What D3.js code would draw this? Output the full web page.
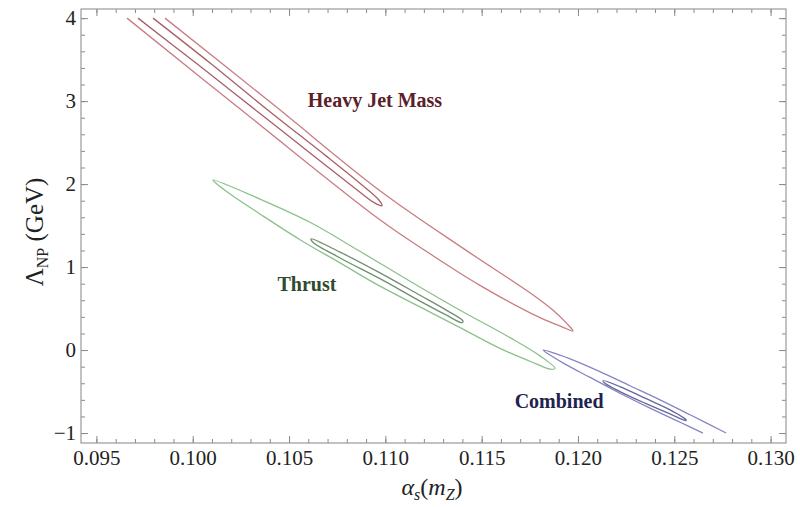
<!DOCTYPE html>
<html>
<head>
<meta charset="utf-8">
<script src="https://cdn.jsdelivr.net/npm/d3@7"></script>
<style>
body { margin: 0; background: #fff; }
</style>
</head>
<body>
<div id="chart"></div>
<script>
// tick labels
const xTicks = [0.095, 0.100, 0.105, 0.110, 0.115, 0.120, 0.125, 0.130];
const yTicks = [-1, 0, 1, 2, 3, 4];

// contour lines, [alpha_s, Lambda_NP]
const heavyOuter = [
    [0.09659, 4.00], [0.10313, 2.78], [0.10972, 1.57], [0.11232, 1.16], [0.11491, 0.78],
    [0.11803, 0.39], [0.11917, 0.28], [0.11974, 0.23], [0.11938, 0.33], [0.11881, 0.46],
    [0.11751, 0.69], [0.11414, 1.21], [0.10972, 1.92], [0.10412, 2.97], [0.09856, 4.00]
];
const heavyInner = [
    [0.09716, 4.00], [0.10027, 3.44], [0.10339, 2.87], [0.10650, 2.30], [0.10842, 1.95],
    [0.10946, 1.77], [0.10983, 1.74], [0.10962, 1.82], [0.10868, 2.01], [0.10692, 2.34],
    [0.10391, 2.89], [0.10095, 3.45], [0.09794, 4.00]
];
const thrustOuter = [
    [0.10105, 2.05], [0.10349, 1.82], [0.10609, 1.54], [0.10868, 1.19], [0.11128, 0.83],
    [0.11388, 0.48], [0.11647, 0.15], [0.11803, -0.07], [0.11881, -0.22], [0.11855, -0.23],
    [0.11777, -0.16], [0.11595, 0.02], [0.11388, 0.27], [0.11180, 0.52], [0.10972, 0.77],
    [0.10765, 1.05], [0.10557, 1.33], [0.10349, 1.64], [0.10194, 1.88], [0.10121, 2.01]
];
const thrustInner = [
    [0.10614, 1.34], [0.10765, 1.18], [0.10972, 0.93], [0.11180, 0.66], [0.11310, 0.49],
    [0.11403, 0.35], [0.11398, 0.33], [0.11310, 0.43], [0.11180, 0.59], [0.10972, 0.86],
    [0.10765, 1.11], [0.10624, 1.30]
];
const combinedOuter = [
    [0.12649, -1.00], [0.12530, -0.87], [0.12374, -0.70], [0.12218, -0.52], [0.12063, -0.33],
    [0.11933, -0.17], [0.11855, -0.06], [0.11819, 0.00], [0.11881, -0.04], [0.11985, -0.13],
    [0.12114, -0.26], [0.12270, -0.43], [0.12426, -0.60], [0.12582, -0.78], [0.12769, -1.00]
];
const combinedInner = [
    [0.12130, -0.37], [0.12218, -0.44], [0.12348, -0.58], [0.12478, -0.72], [0.12561, -0.84],
    [0.12561, -0.85], [0.12478, -0.77], [0.12348, -0.64], [0.12218, -0.50], [0.12140, -0.40]
];

const width = 800, height = 507;
const frame = {left: 81, right: 786, top: 9, bottom: 443};
const serif = '"Liberation Serif", "Times New Roman", Times, "DejaVu Serif", serif';

const x = d3.scaleLinear().domain([0.0942, 0.1308]).range([frame.left, frame.right]);
const y = d3.scaleLinear().domain([-1.12, 4.11]).range([frame.bottom, frame.top]);

const svg = d3.select("#chart")
    .append("svg")
    .attr("width", width)
    .attr("height", height)
    .style("font-family", serif);

svg.append("rect").attr("width", width).attr("height", height).attr("fill", "#fff");

// minor ticks every 0.001 and 0.2
const xMinor = d3.range(94, 132).map(d => d / 1000).filter(d => d >= x.domain()[0] && d <= x.domain()[1]);
const yMinor = d3.range(-5, 21).map(d => d / 5);

function ticks(axis, tx, ty, values, size, fmt) {
    let g = svg.append("g")
        .attr("transform", "translate(" + tx + "," + ty + ")")
        .call(axis.tickValues(values).tickSize(size).tickFormat(fmt))
        .attr("font-family", null)
        .attr("font-size", null);
    g.select(".domain").remove();
    g.selectAll("line").attr("stroke", "#8a8a8a");
    return g;
}

ticks(d3.axisBottom(x), 0, frame.bottom, xMinor, -4, "");
ticks(d3.axisTop(x), 0, frame.top, xMinor, -4, "");
ticks(d3.axisLeft(y), frame.left, 0, yMinor, -4, "");
ticks(d3.axisRight(y), frame.right, 0, yMinor, -4, "");

let xAxis = ticks(d3.axisBottom(x).tickPadding(7), 0, frame.bottom, xTicks, -7, d3.format(".3f"));
ticks(d3.axisTop(x), 0, frame.top, xTicks, -7, "");
let yAxis = ticks(d3.axisLeft(y).tickPadding(5), frame.left, 0, yTicks, -7, d3.format("d"));
ticks(d3.axisRight(y), frame.right, 0, yTicks, -7, "");

[xAxis, yAxis].forEach(g => g.selectAll("text")
    .style("font-family", serif)
    .style("font-size", "21px")
    .attr("fill", "#222"));

svg.append("rect")
    .attr("x", frame.left)
    .attr("y", frame.top)
    .attr("width", frame.right - frame.left)
    .attr("height", frame.bottom - frame.top)
    .attr("fill", "none")
    .attr("stroke", "#9a9a9a")
    .attr("stroke-width", 1.2);

// contours
const contours = [
    {pts: heavyOuter, closed: false, color: "#c97d82"},
    {pts: heavyInner, closed: false, color: "#a85f67"},
    {pts: thrustOuter, closed: true, color: "#8cc18c"},
    {pts: thrustInner, closed: true, color: "#708f70"},
    {pts: combinedOuter, closed: false, color: "#8585c4"},
    {pts: combinedInner, closed: true, color: "#66679c"}
];

const openLine = d3.line().x(d => x(d[0])).y(d => y(d[1])).curve(d3.curveCatmullRom);
const closedLine = d3.line().x(d => x(d[0])).y(d => y(d[1])).curve(d3.curveCatmullRomClosed);

contours.forEach(c => {
    svg.append("path")
        .attr("d", c.closed ? closedLine(c.pts) : openLine(c.pts))
        .attr("fill", "none")
        .attr("stroke", c.color)
        .attr("stroke-width", 1.3)
        .attr("stroke-linejoin", "round");
});

// labels inside the plot (data coordinates)
const annotations = [
    {text: "Heavy Jet Mass", at: [0.10946, 2.93], color: "#5c2029"},
    {text: "Thrust", at: [0.10593, 0.71], color: "#2f4a2f"},
    {text: "Combined", at: [0.11902, -0.70], color: "#22224e"}
];
annotations.forEach(a => {
    svg.append("text")
        .attr("x", x(a.at[0]))
        .attr("y", y(a.at[1]))
        .attr("text-anchor", "middle")
        .attr("font-weight", "bold")
        .style("font-family", serif)
        .style("font-size", "20px")
        .attr("fill", a.color)
        .text(a.text);
});

// axis titles
let xt = svg.append("text")
    .attr("x", 432)
    .attr("y", 495)
    .attr("text-anchor", "middle")
    .style("font-family", serif)
    .style("font-size", "24px")
    .attr("fill", "#222");
xt.append("tspan").attr("font-style", "italic").text("α");
xt.append("tspan").attr("font-style", "italic").attr("dy", 5).style("font-size", "16px").text("s");
xt.append("tspan").attr("dy", -5).text("(");
xt.append("tspan").attr("font-style", "italic").text("m");
xt.append("tspan").attr("font-style", "italic").attr("dy", 5).style("font-size", "16px").text("Z");
xt.append("tspan").attr("dy", -5).text(")");

let yt = svg.append("text")
    .attr("transform", "translate(43,232) rotate(-90)")
    .attr("text-anchor", "middle")
    .style("font-family", serif)
    .style("font-size", "25px")
    .attr("fill", "#222");
yt.append("tspan").text("Λ");
yt.append("tspan").attr("dy", 5).style("font-size", "16px").text("NP");
yt.append("tspan").attr("dy", -5).text(" (GeV)");
</script>
</body>
</html>
